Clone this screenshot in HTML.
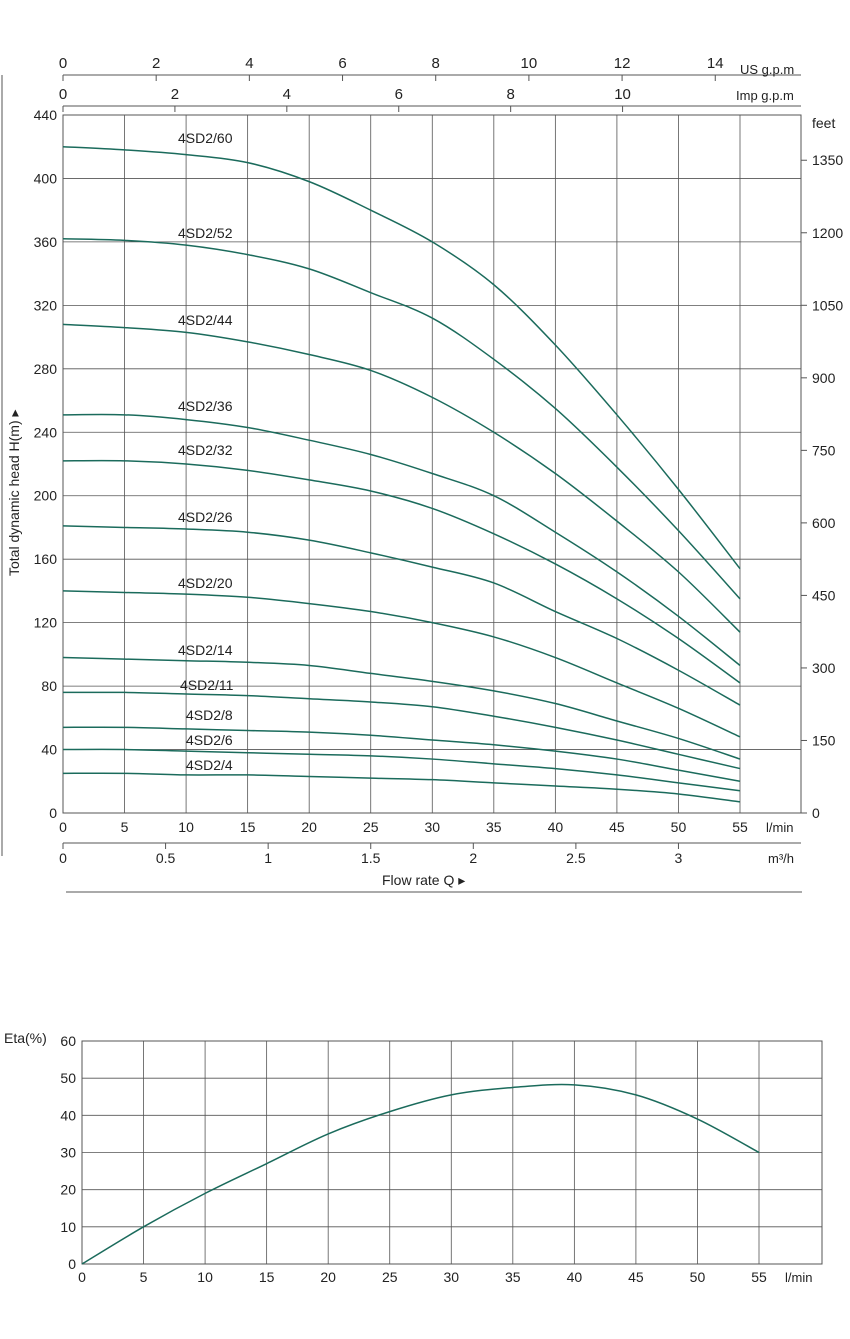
<!DOCTYPE html>
<html><head><meta charset="utf-8"><style>
body{margin:0;background:#fff;}
svg{display:block;font-family:"Liberation Sans",sans-serif;}
text{fill:#222;}
</style></head><body>
<svg id="s" width="850" height="1339" viewBox="0 0 850 1339"></svg>
<script>
const flowTicks=[0,5,10,15,20,25,30,35,40,45,50,55];
const headTicks=[0,40,80,120,160,200,240,280,320,360,400,440];
const feetTicks=[0,150,300,450,600,750,900,1050,1200,1350];
const usTicks=[0,2,4,6,8,10,12,14];
const impTicks=[0,2,4,6,8,10];
const m3hTicks=[0,0.5,1,1.5,2,2.5,3];
const curveNames=["4SD2/60","4SD2/52","4SD2/44","4SD2/36","4SD2/32","4SD2/26","4SD2/20","4SD2/14","4SD2/11","4SD2/8","4SD2/6","4SD2/4"];
const c60=[420,418,415,410,398,380,360,333,295,251,204,154];
const c52=[362,361,358,352,343,328,312,286,255,218,178,135];
const c44=[308,306,303,297,289,279,262,240,214,184,152,114];
const c36=[251,251,248,243,235,226,214,200,177,152,124,93];
const c32=[222,222,220,216,210,203,192,176,157,135,110,82];
const c26=[181,180,179,177,172,164,155,145,127,110,90,68];
const c20=[140,139,138,136,132,127,120,111,98,82,66,48];
const c14=[98,97,96,95,93,88,83,77,69,58,47,34];
const c11=[76,76,75,74,72,70,67,61,54,46,37,28];
const c8=[54,54,53,52,51,49,46,43,39,34,27,20];
const c6=[40,40,39,38,37,36,34,31,28,24,19,14];
const c4=[25,25,24,24,23,22,21,19,17,15,12,7];
const labelPos=[[178,143],[178,238],[178,325],[178,411],[178,455],[178,522],[178,588],[178,655],[180,690],[186,720],[186,745],[186,770]];
const etaTicks=[0,10,20,30,40,50,60];
const etaVals=[0,10,19,27,35,41,45.5,47.5,48.2,45.5,39,30];
const allCurves=[c60,c52,c44,c36,c32,c26,c20,c14,c11,c8,c6,c4];

const S=document.getElementById('s');
const NS='http://www.w3.org/2000/svg';
function el(t,a,txt){const e=document.createElementNS(NS,t);for(const k in a)e.setAttribute(k,a[k]);if(txt!==undefined)e.textContent=txt;S.appendChild(e);return e;}
const X=q=>63+q*(740-63)/55;
const Y=h=>813-h*(813-115)/440;
const EX=q=>82+q*(759-82)/55;
const EY=v=>1264-v*(1264-1041)/60;
const G='#555',C='#1b6b5c';
function smooth(pts){let d='M'+pts[0][0]+','+pts[0][1];for(let i=0;i<pts.length-1;i++){const p0=pts[i-1]||pts[i],p1=pts[i],p2=pts[i+1],p3=pts[i+2]||p2;d+=' C'+(p1[0]+(p2[0]-p0[0])/6)+','+(p1[1]+(p2[1]-p0[1])/6)+' '+(p2[0]-(p3[0]-p1[0])/6)+','+(p2[1]-(p3[1]-p1[1])/6)+' '+p2[0]+','+p2[1];}return d;}

// main grid
let e;
e=el('rect',{x:63,y:115,width:738,height:698,fill:'none',stroke:G,'stroke-width':1});

flowTicks.forEach(q=>{e=el('line',{x1:X(q),y1:115,x2:X(q),y2:813,stroke:G,'stroke-width':0.8});
e=el('text',{x:X(q),y:832,'text-anchor':'middle','font-size':14},q);});
headTicks.forEach(h=>{e=el('line',{x1:63,y1:Y(h),x2:801,y2:Y(h),stroke:G,'stroke-width':0.8});
e=el('text',{x:57,y:Y(h)+5,'text-anchor':'end','font-size':14},h);});
feetTicks.forEach(f=>{const y=Y(f*0.3048);e=el('line',{x1:801,y1:y,x2:807,y2:y,stroke:G});
e=el('text',{x:812,y:y+5,'font-size':14},f);});
e=el('text',{x:812,y:128,'font-size':14},'feet');
// top axes
e=el('line',{x1:63,y1:75,x2:801,y2:75,stroke:G});
usTicks.forEach(g=>{const x=X(g*3.785);e=el('line',{x1:x,y1:75,x2:x,y2:81,stroke:G});
e=el('text',{x:x,y:68,'text-anchor':'middle','font-size':15},g);});
e=el('text',{x:740,y:74,'font-size':13},'US g.p.m');
e=el('line',{x1:63,y1:106,x2:801,y2:106,stroke:G});
impTicks.forEach(g=>{const x=X(g*4.546);e=el('line',{x1:x,y1:106,x2:x,y2:112,stroke:G});
e=el('text',{x:x,y:99,'text-anchor':'middle','font-size':15},g);});
e=el('text',{x:736,y:100,'font-size':13},'Imp g.p.m');
e=el('text',{x:766,y:832,'font-size':13},'l/min');
// m3/h axis
e=el('line',{x1:63,y1:843,x2:801,y2:843,stroke:G});
m3hTicks.forEach(m=>{const x=X(m*1000/60);e=el('line',{x1:x,y1:843,x2:x,y2:849,stroke:G});
e=el('text',{x:x,y:863,'text-anchor':'middle','font-size':14},m);});
e=el('text',{x:768,y:863,'font-size':13},'m³/h');
e=el('text',{x:382,y:885,'font-size':14},'Flow  rate Q ▸');
e=el('line',{x1:66,y1:892,x2:802,y2:892,stroke:G});
e=el('line',{x1:2,y1:75,x2:2,y2:856,stroke:G});
e=el('text',{x:0,y:0,'font-size':14,transform:'translate(19,576) rotate(-90)'},'Total dynamic head H(m) ▸');
// curves
allCurves.forEach((c,i)=>{const pts=c.map((h,k)=>[X(flowTicks[k]),Y(h)]);
e=el('path',{d:smooth(pts),fill:'none',stroke:C,'stroke-width':1.5});
e=el('text',{x:labelPos[i][0],y:labelPos[i][1],'font-size':14},curveNames[i]);});
// efficiency chart
e=el('rect',{x:82,y:1041,width:740,height:223,fill:'none',stroke:G});
flowTicks.forEach(q=>{e=el('line',{x1:EX(q),y1:1041,x2:EX(q),y2:1264,stroke:G,'stroke-width':0.8});
e=el('text',{x:EX(q),y:1282,'text-anchor':'middle','font-size':14},q);});
etaTicks.forEach(v=>{e=el('line',{x1:82,y1:EY(v),x2:822,y2:EY(v),stroke:G,'stroke-width':0.8});
e=el('text',{x:76,y:EY(v)+5,'text-anchor':'end','font-size':14},v);});
e=el('text',{x:4,y:1043,'font-size':14},'Eta(%)');
e=el('text',{x:785,y:1282,'font-size':13},'l/min');
e=el('path',{d:smooth(etaVals.map((v,k)=>[EX(flowTicks[k]),EY(v)])),fill:'none',stroke:C,'stroke-width':1.5});

</script>
</body></html>
